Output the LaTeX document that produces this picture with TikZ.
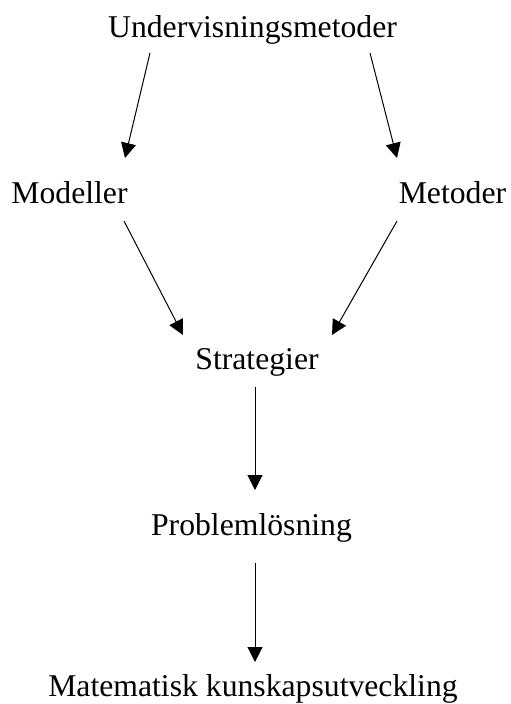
\documentclass[tikz,border=0pt]{standalone}
\usepackage{fontspec}
\setmainfont{Liberation Serif}
\usetikzlibrary{arrows.meta}

\begin{document}
\begin{tikzpicture}[x=1pt, y=-1pt, line width=1pt, >={Triangle[length=15pt,width=15pt]},
  word/.style={anchor=base, inner sep=0pt, font=\fontsize{31.7}{38}\selectfont}]
\useasboundingbox (0,0) rectangle (511,704);
\node[word] (top) at (252.5,37) {Undervisningsmetoder};
\node[word] (mod) at (69.5,203) {Modeller};
\node[word] (met) at (452.5,203) {Metoder};
\node[word] (strat) at (257,369) {Strategier};
\node[word] (prob) at (251.5,535) {Problemlösning};
\node[word] (mat) at (253,696.5) {Matematisk kunskapsutveckling};
\draw[->] ([xshift=-102.5pt,yshift=-16pt]top.base) -- ([xshift=55.5pt,yshift=45pt]mod.base);
\draw[->] ([xshift=117.5pt,yshift=-16pt]top.base) -- ([xshift=-55.5pt,yshift=45pt]met.base);
\draw[->] ([xshift=54.5pt,yshift=-18pt]mod.base) -- ([xshift=-74pt,yshift=34pt]strat.base);
\draw[->] ([xshift=-55.5pt,yshift=-18pt]met.base) -- ([xshift=75pt,yshift=34pt]strat.base);
\draw[->] ([xshift=-2pt,yshift=-18pt]strat.base) -- ([xshift=3.5pt,yshift=45pt]prob.base);
\draw[->] ([xshift=3.5pt,yshift=-28pt]prob.base) -- ([xshift=2pt,yshift=34.5pt]mat.base);
\end{tikzpicture}
\end{document}
